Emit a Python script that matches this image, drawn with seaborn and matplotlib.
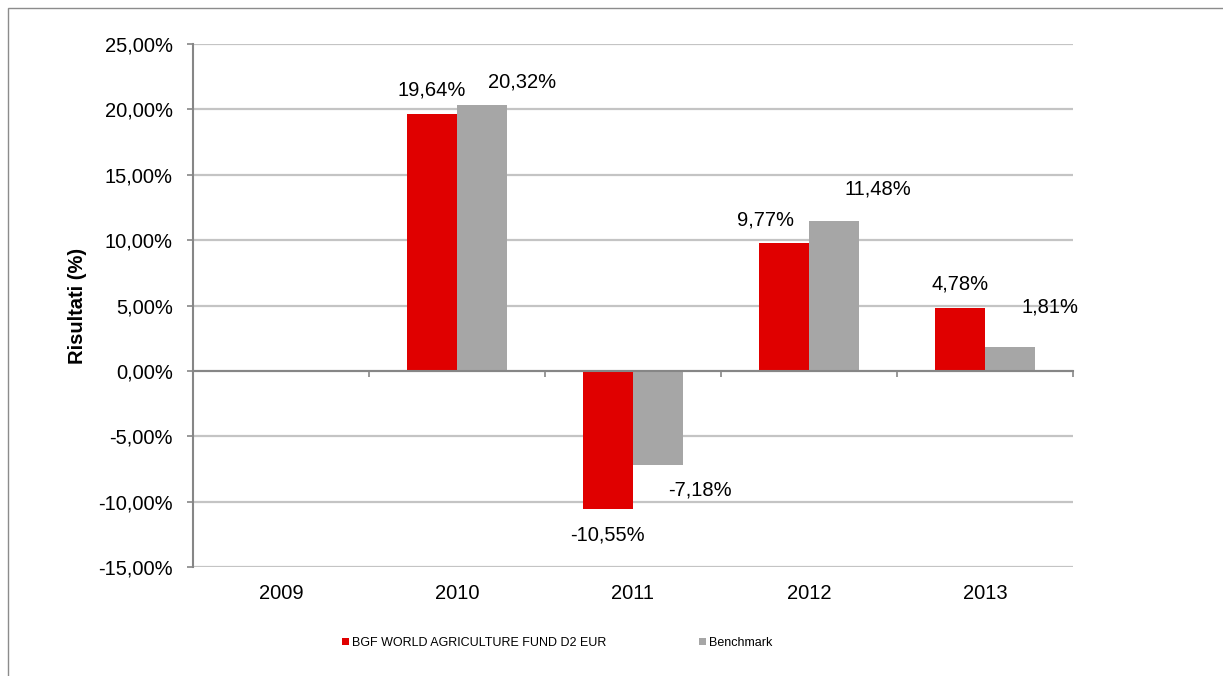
import numpy as np
import pandas as pd
import matplotlib
matplotlib.use("Agg")
import matplotlib.pyplot as plt
from matplotlib.patches import Rectangle
import seaborn as sns

# ---------------------------
# DATA
# ---------------------------
years = ["2009", "2010", "2011", "2012", "2013"]
series = ["BGF WORLD AGRICULTURE FUND D2 EUR", "Benchmark"]
fund = [np.nan, 19.64, -10.55, 9.77, 4.78]
bench = [np.nan, 20.32, -7.18, 11.48, 1.81]
yticks = [-15, -10, -5, 0, 5, 10, 15, 20, 25]

df = pd.DataFrame({
    "Anno": years * 2,
    "Serie": [series[0]] * len(years) + [series[1]] * len(years),
    "Valore": fund + bench,
}).dropna()

# label offsets in pixels from the bar end (dx, dy up)
offsets = {
    (0, "2010"): (0, 24), (1, "2010"): (40, 23),
    (0, "2011"): (0, -26), (1, "2011"): (42, -25),
    (0, "2012"): (-18, 23), (1, "2012"): (44, 32),
    (0, "2013"): (0, 24), (1, "2013"): (40, 40),
}

RED = "#e00000"
GREY = "#a6a6a6"
AXC = "#868686"

sns.set_style("white")
plt.rcParams["font.family"] = ["Liberation Sans", "DejaVu Sans"]
plt.rcParams["text.color"] = "black"
plt.rcParams["axes.labelcolor"] = "black"
plt.rcParams["xtick.color"] = "black"
plt.rcParams["ytick.color"] = "black"

fig = plt.figure(figsize=(12.23, 6.76), dpi=100)
ax = fig.add_axes([193 / 1223, 1 - 567 / 676, 880 / 1223, 523 / 676])

sns.barplot(data=df, x="Anno", y="Valore", hue="Serie", order=years,
            hue_order=series, palette=[RED, GREY], width=0.57,
            saturation=1, errorbar=None, linewidth=0, ax=ax)

# ---------------------------
# AXES STYLING
# ---------------------------
ax.set_ylim(-15, 25)
ax.set_xlim(-0.5, len(years) - 0.5)
ax.set_yticks(yticks)
ax.set_yticklabels([f"{v:.2f}".replace(".", ",") + "%" for v in yticks])
ax.yaxis.grid(True, color="#c4c4c4", lw=1.6)
ax.xaxis.grid(False)
ax.set_axisbelow(True)

for s in ["top", "right"]:
    ax.spines[s].set_visible(False)
ax.spines["left"].set_color(AXC)
ax.spines["left"].set_linewidth(1.5)
ax.spines["bottom"].set_position(("data", 0))
ax.spines["bottom"].set_color(AXC)
ax.spines["bottom"].set_linewidth(1.5)

ax.tick_params(axis="y", direction="out", length=4.5, width=1.2, color=AXC,
               pad=10, labelsize=14.5, labelcolor="black", left=True)
ax.set_xticks(np.arange(len(years) + 1) - 0.5)
ax.set_xticklabels([])
ax.tick_params(axis="x", direction="out", length=4.5, width=1.2, color=AXC, bottom=True)

sec = ax.secondary_xaxis(0)
sec.set_xticks(range(len(years)), labels=years)
sec.tick_params(length=0, pad=12, labelsize=14.5, labelcolor="black")
sec.spines["bottom"].set_visible(False)

ax.set_xlabel("")
ax.set_ylabel("Risultati (%)", fontsize=14.5, fontweight="bold", labelpad=8, color="black")

# ---------------------------
# DATA LABELS
# ---------------------------
for si, cont in enumerate(ax.containers):
    for bar in cont:
        h = bar.get_height()
        if np.isnan(h):
            continue
        xc = bar.get_x() + bar.get_width() / 2
        yr = years[int(round(xc))]
        dx, dy = offsets[(si, yr)]
        txt = f"{h:.2f}".replace(".", ",") + "%"
        ax.annotate(txt, (xc, h), xytext=(dx, dy), textcoords="offset pixels",
                    ha="center", va="center", fontsize=14.5, color="black")

# ---------------------------
# LEGEND
# ---------------------------
handles, labels = ax.get_legend_handles_labels()
ax.get_legend().remove()
fig.legend(handles, labels, loc="center", bbox_to_anchor=(557 / 1223, 1 - 643 / 676),
           ncol=2, frameon=False, fontsize=9, handlelength=0.55, handleheight=0.55,
           handletextpad=0.25, columnspacing=7.4, labelcolor="black")

# outer frame
fig.add_artist(Rectangle((8 / 1223, -0.2), 1.2, 1.2 - 8 / 676, transform=fig.transFigure,
                         fill=False, ec="#8c8c8c", lw=1))

fig.savefig("out.png", dpi=100)
